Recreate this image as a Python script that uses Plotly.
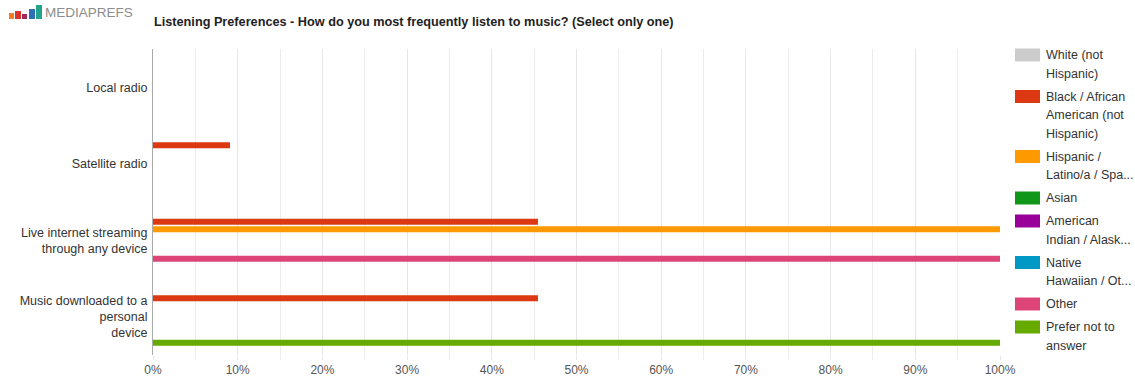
import plotly.graph_objects as go

# ---- data -------------------------------------------------------------
categories = [
    "Local radio",
    "Satellite radio",
    "Live internet streaming<br>through any device",
    "Music downloaded to a<br>personal<br>device",
]

series_names = [
    "White (not Hispanic)",
    "Black / African American (not Hispanic)",
    "Hispanic / Latino/a / Spanish origin",
    "Asian",
    "American Indian / Alaska Native",
    "Native Hawaiian / Other Pacific Islander",
    "Other",
    "Prefer not to answer",
]

legend_labels = [
    ["White (not", "Hispanic)"],
    ["Black / African", "American (not", "Hispanic)"],
    ["Hispanic /", "Latino/a / Spa..."],
    ["Asian"],
    ["American", "Indian / Alask..."],
    ["Native", "Hawaiian / Ot..."],
    ["Other"],
    ["Prefer not to", "answer"],
]

white = [0, 0, 0, 0]
black = [0, 9.09, 45.45, 45.45]
hispanic = [0, 0, 100, 0]
asian = [0, 0, 0, 0]
american_indian = [0, 0, 0, 0]
native_hawaiian = [0, 0, 0, 0]
other = [0, 0, 100, 0]
prefer_not = [0, 0, 0, 100]

values = [white, black, hispanic, asian, american_indian,
          native_hawaiian, other, prefer_not]

colors = ["#cccccc", "#dc3912", "#ff9900", "#109618",
          "#990099", "#0099c6", "#dd4477", "#66aa00"]

x_ticks = list(range(0, 101, 10))

# ---- figure geometry (pixels) ------------------------------------------
W, H = 1135, 381
ML, MR, MT, MB = 153, 135, 49, 26
PW, PH = W - ML - MR, H - MT - MB


def px_x(px):
    return (px - ML) / PW


def px_y(py):
    return (H - MB - py) / PH


FONT = "Liberation Sans, Arial, sans-serif"

fig = go.Figure()
for name, vals, col in zip(series_names, values, colors):
    fig.add_trace(go.Bar(
        x=vals, y=categories, name=name, orientation="h",
        marker=dict(color=col, line=dict(width=0)),
        showlegend=False,
    ))

fig.update_layout(
    width=W, height=H,
    margin=dict(l=ML, r=MR, t=MT, b=MB, pad=0, autoexpand=False),
    paper_bgcolor="white", plot_bgcolor="white",
    barmode="group", bargap=0.226, bargroupgap=0.19,
    font=dict(family=FONT, size=12, color="#444"),
)

fig.update_xaxes(
    range=[0, 100], tickvals=x_ticks,
    ticktext=[f"{v}%" for v in x_ticks],
    showgrid=True, gridcolor="#e6e6e6", gridwidth=1,
    ticks="outside", ticklen=4, tickcolor="#e6e6e6",
    minor=dict(dtick=5, showgrid=True, gridcolor="#ececec",
               ticks="outside", ticklen=4, tickcolor="#ececec"),
    zeroline=False, showline=False, automargin=False,
    tickfont=dict(size=12, color="#555"),
    fixedrange=True,
)
fig.update_yaxes(
    autorange="reversed", showgrid=False, zeroline=False,
    showline=True, linecolor="#aaaaaa", linewidth=1,
    ticks="", tickfont=dict(size=12.5, color="#333"),
    ticklabelstandoff=2, automargin=False,
    fixedrange=True,
)

shapes = []
annotations = []

# Title
annotations.append(dict(
    xref="paper", yref="paper", x=px_x(152), y=px_y(22),
    xanchor="left", yanchor="middle", showarrow=False,
    text="<b>Listening Preferences - How do you most frequently listen to music? (Select only one)</b>",
    font=dict(family=FONT, size=12.7, color="#222"),
))

# Brand mark: small ascending bars followed by the wordmark
logo_bars = [
    (9, 14, 13, 19, "#f07e26"),
    (15, 21, 11, 19, "#d8342c"),
    (22, 27, 14, 19, "#a3285a"),
    (29, 35, 9, 19, "#2f6fb6"),
    (36, 42, 5, 19, "#22a38c"),
]
for x0, x1, y0, y1, c in logo_bars:
    shapes.append(dict(type="rect", xref="paper", yref="paper",
                       x0=px_x(x0), x1=px_x(x1), y0=px_y(y1), y1=px_y(y0),
                       fillcolor=c, line=dict(width=0), layer="above"))
annotations.append(dict(
    xref="paper", yref="paper", x=px_x(43), y=px_y(13),
    xanchor="left", yanchor="middle", showarrow=False,
    text="MEDIAPREFS",
    font=dict(family=FONT, size=13.5, color="#8c8c8c"),
))

# Legend drawn at the right of the plot area
line_h, item_gap = 18.5, 4.5
y_line = 55.0
for labels, col in zip(legend_labels, colors):
    shapes.append(dict(type="rect", xref="paper", yref="paper",
                       x0=px_x(1015), x1=px_x(1040),
                       y0=px_y(y_line + 6.5), y1=px_y(y_line - 6.5),
                       fillcolor=col, line=dict(width=0)))
    for i, t in enumerate(labels):
        annotations.append(dict(
            xref="paper", yref="paper", x=px_x(1044),
            y=px_y(y_line + i * line_h),
            xanchor="left", yanchor="middle", showarrow=False,
            text=t, font=dict(family=FONT, size=12.5, color="#333"),
        ))
    y_line += len(labels) * line_h + item_gap

fig.update_layout(shapes=shapes, annotations=annotations)

fig.write_html("out.html")
